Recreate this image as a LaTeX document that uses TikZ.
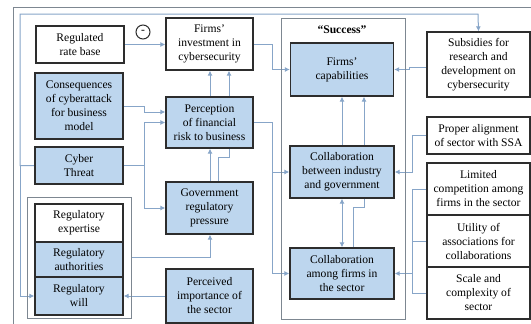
\documentclass[tikz,border=0pt]{standalone}
\usepackage{fontspec}
\setmainfont{Liberation Serif}
\usetikzlibrary{arrows.meta,backgrounds}
\definecolor{bfill}{RGB}{189,214,238}
\definecolor{bdraw}{RGB}{45,45,45}
\definecolor{conn}{RGB}{135,165,200}
\definecolor{frm}{RGB}{125,135,145}
\begin{document}
\begin{tikzpicture}[x=1pt,y=-1pt,
  font=\fontsize{11.6}{14}\selectfont,
  bx/.style={draw=bdraw,line width=1.3pt,fill=bfill,align=center,inner sep=0pt},
  wbx/.style={bx,fill=white},
  cn/.style={draw=conn,line width=1pt},
  ar/.style={cn,-{Latex[length=5pt,width=5pt]}},
  fr/.style={draw=frm,line width=1pt,inner sep=0pt}]
\useasboundingbox (0,0) rectangle (531,324);
% frames
\node[fr,minimum width=560,minimum height=360,anchor=north west] (outer) at (13,7) {};
\node[fr,minimum width=104,minimum height=121] (rfr) at (79,257.5) {};
\node[fr,minimum width=124,minimum height=301] (sfr) at (343,168.5) {};
\node[font=\bfseries\fontsize{11.6}{14}\selectfont] (slab) at (342,30) {“Success”};
% boxes
\node[wbx,minimum width=88,minimum height=37] (rrb) at (80,44.5) {Regulated\\rate base};
\node[wbx,minimum width=87,minimum height=52] (inv) at (209.5,44) {Firms’\\investment in\\cybersecurity};
\node[bx,minimum width=88,minimum height=66] (cons) at (79,106) {Consequences\\of cyberattack\\for business\\model};
\node[bx,minimum width=87,minimum height=51] (perc) at (209.5,122.5) {Perception\\of financial\\risk to business};
\node[bx,minimum width=88,minimum height=37] (cyber) at (79,165.5) {Cyber\\Threat};
\node[bx,minimum width=87,minimum height=52] (gov) at (209.5,208) {Government\\regulatory\\pressure};
\node[wbx,minimum width=88,minimum height=38] (rexp) at (79,223) {Regulatory\\expertise};
\node[bx,minimum width=88,minimum height=35] (rauth) at (79,259.5) {Regulatory\\authorities};
\node[bx,minimum width=88,minimum height=38] (rwill) at (79,296) {Regulatory\\will};
\node[bx,minimum width=87,minimum height=54] (pimp) at (209.5,296) {Perceived\\importance of\\the sector};
\node[bx,minimum width=103,minimum height=53] (cap) at (342,69.5) {Firms’\\capabilities};
\node[bx,minimum width=104,minimum height=52] (cb) at (342,172) {Collaboration\\between industry\\and government};
\node[bx,minimum width=104,minimum height=51] (ca) at (342,273.5) {Collaboration\\among firms in\\the sector};
\node[wbx,minimum width=103,minimum height=65] (sub) at (478.5,64.5) {Subsidies for\\research and\\development on\\cybersecurity};
\node[wbx,minimum width=103,minimum height=37] (pa) at (478.5,135.5) {Proper alignment\\of sector with SSA};
\node[wbx,minimum width=103,minimum height=52] (lim) at (478.5,189) {Limited\\competition among\\firms in the sector};
\node[wbx,minimum width=103,minimum height=52] (util) at (478.5,241) {Utility of\\associations for\\collaborations};
\node[wbx,minimum width=103,minimum height=52] (scl) at (478.5,293) {Scale and\\complexity of\\sector};
\node[draw=bdraw,line width=1pt,circle,minimum size=14pt,inner sep=0pt] (neg) at (143,32) {-};
% helper columns
\coordinate (xa) at (144,0);
\coordinate (xb) at (210,0);
\coordinate (xc) at (218,0);
\coordinate (xd) at (229,0);
\coordinate (xe) at (272,0);
\coordinate (xg) at (353,0);
\coordinate (xh) at (364,0);
\coordinate (xj) at (412,0);
\coordinate (xk) at (20,0);
\coordinate (xl) at (478,0);
\coordinate (ytop) at (0,14);
\begin{pgfonlayer}{background}
\fill[white] (0,0) rectangle (531,324);
\draw[ar] (rrb.east) -- (rrb.east -| inv.west);
\draw[ar] (cons.east) -- (cons.east -| xa) |- ([yshift=10.5pt]perc.west);
\draw[cn] (cyber.east) -- (cyber.east -| xa);
\draw[ar] (cyber.east -| xa) |- (perc.west);
\draw[ar] (cyber.east -| xa) |- (gov.west);
\draw[ar] (gov.north -| xb) -- (perc.south -| xb);
\draw[ar] (gov.north -| xc) -- ++(0,-24) -| (inv.south -| xd);
\draw[ar] (perc.north -| xb) -- (inv.south -| xb);
\draw[ar] (inv.east) -- (inv.east -| xe) |- (cap.west);
\draw[ar] (perc.east) -- (perc.east -| xe) |- (cb.west);
\draw[ar] (cb.west -| xe) |- (ca.west);
\draw[ar] (cb.north) -- (cap.south);
\draw[ar] (ca.north -| xg) -- ++(0,-40) -| (cap.south -| xh);
\draw[cn,{Latex[length=5pt,width=5pt]}-{Latex[length=5pt,width=5pt]}] (cb.south) -- (ca.north);
\draw[ar] ([yshift=-2.5pt]sub.west) -- ++(-17,0) |- (cap.east);
\draw[ar] (pa.west) -- (pa.west -| xj) |- (cb.east);
\draw[cn] (lim.west) -- (lim.west -| xj) -- (scl.west -| xj) -- (scl.west);
\draw[cn] (util.west) -- (util.west -| xj);
\draw[ar] (ca.east -| xj) -- (ca.east);
\draw[ar] (cyber.west) -- (cyber.west -| xk) |- (ytop -| xl) -- (sub.north);
\draw[ar] (cyber.west -| xk) |- (rwill.west);
\draw[ar] (rfr.east) -| (gov.south -| xb);
\draw[ar] (pimp.west) -- (pimp.west -| rwill.east);
\end{pgfonlayer}
\end{tikzpicture}
\end{document}
